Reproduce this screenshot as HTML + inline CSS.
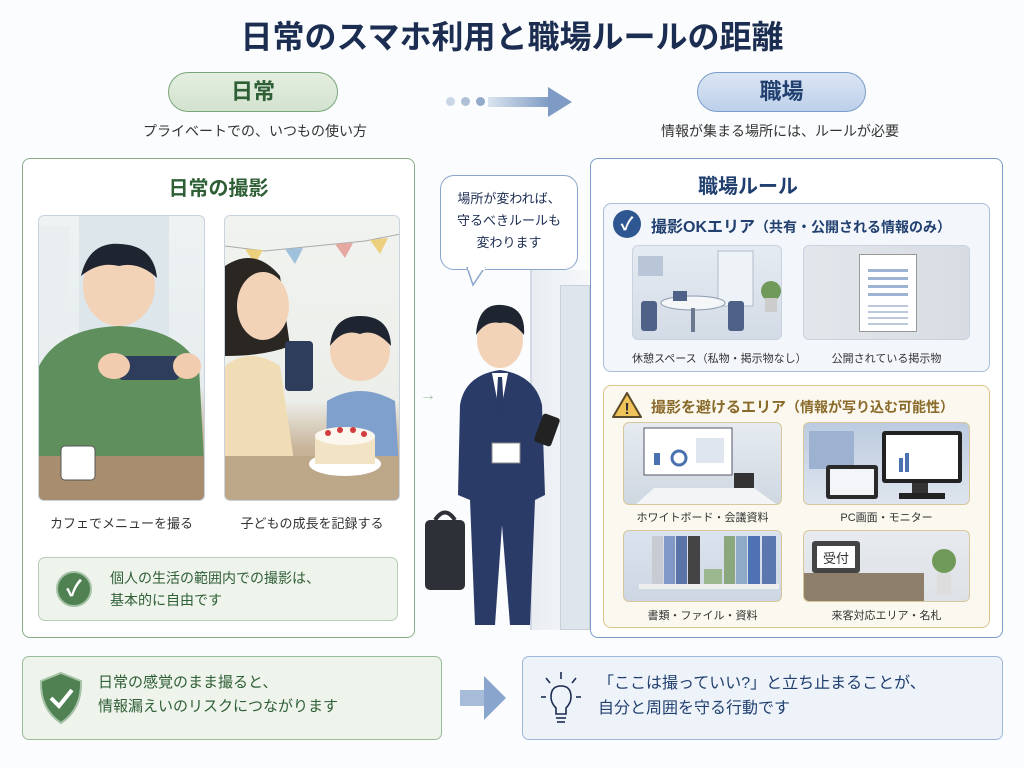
<!DOCTYPE html>
<html><head><meta charset="utf-8"><style>
*{margin:0;padding:0;box-sizing:border-box}
body{width:1024px;height:768px;background:#fbfcfd;position:relative;overflow:hidden;font-family:"Liberation Sans","Noto Sans CJK JP",sans-serif;color:#333}
.a{position:absolute}
.t{white-space:nowrap}
.ph{position:absolute;border-radius:6px;overflow:hidden;border:1px solid #c9d3df}
.lbl{position:absolute;font-size:12px;color:#333;text-align:center;white-space:nowrap}
</style></head><body>
<div class="a t" style="left:0;width:1024px;top:12px;text-align:center;font-size:32px;font-weight:bold;color:#1c2d52">日常のスマホ利用と職場ルールの距離</div>

<div class="a" style="left:168px;top:72px;width:170px;height:40px;border-radius:20px;background:linear-gradient(#e4eee0,#d3e2cf);border:1.5px solid #7aa57a;text-align:center;line-height:38px;font-size:22px;font-weight:bold;color:#2e5f35">日常</div>
<div class="a t" style="left:130px;top:121px;width:250px;text-align:center;font-size:14px;color:#333">プライベートでの、いつもの使い方</div>

<div class="a" style="left:446px;top:97px;width:9px;height:9px;border-radius:50%;background:#c9d6e6"></div>
<div class="a" style="left:461px;top:97px;width:9px;height:9px;border-radius:50%;background:#aebfd6"></div>
<div class="a" style="left:476px;top:97px;width:9px;height:9px;border-radius:50%;background:#93aacb"></div>
<svg class="a" style="left:488px;top:87px" width="86" height="30"><defs><linearGradient id="g1"><stop offset="0" stop-color="#dbe4ef"/><stop offset="1" stop-color="#7d9bc4"/></linearGradient></defs><rect x="0" y="10" width="62" height="10" fill="url(#g1)"/><polygon points="60,0 84,15 60,30" fill="#7d9bc4"/></svg>

<div class="a" style="left:697px;top:72px;width:169px;height:40px;border-radius:20px;background:linear-gradient(#dbe6f4,#bdd0ea);border:1.5px solid #7b9cc9;text-align:center;line-height:38px;font-size:22px;font-weight:bold;color:#21406f">職場</div>
<div class="a t" style="left:640px;top:121px;width:280px;text-align:center;font-size:14px;color:#333">情報が集まる場所には、ルールが必要</div>

<!-- left panel -->
<div class="a" style="left:22px;top:158px;width:393px;height:480px;border:1.5px solid #86ad86;border-radius:8px;background:#fff"></div>
<div class="a t" style="left:22px;width:393px;top:172px;text-align:center;font-size:20px;font-weight:bold;color:#2e5f35">日常の撮影</div>

<div class="ph" style="left:38px;top:215px;width:167px;height:286px;background:linear-gradient(#eef2f3 0%,#e7ecee 60%,#c9b59c 78%,#b89f82 100%)">
<svg width="167" height="286"><rect x="40" y="0" width="90" height="120" fill="#dde6ea"/><rect x="0" y="10" width="30" height="110" fill="#e9eff0"/><ellipse cx="80" cy="70" rx="36" ry="40" fill="#f3d3b8"/><path d="M42 60 Q50 25 82 28 Q115 30 118 62 Q100 45 80 50 Q60 45 42 60Z" fill="#1e2430"/><path d="M0 285 L0 150 Q20 112 80 110 Q140 112 160 150 L167 285Z" fill="#5f8f5c"/><rect x="80" y="140" width="60" height="24" rx="4" fill="#2e3d5c"/><ellipse cx="75" cy="150" rx="16" ry="13" fill="#f1ccaf"/><ellipse cx="148" cy="150" rx="14" ry="13" fill="#f1ccaf"/><rect x="0" y="240" width="167" height="46" fill="#a88d6e"/><rect x="22" y="230" width="34" height="34" rx="4" fill="#fff" stroke="#555"/></svg></div>
<div class="ph" style="left:224px;top:215px;width:176px;height:286px;background:linear-gradient(#f1f3f0 0%,#ebeee9 65%,#c9b499 82%,#b39b7f 100%)">
<svg width="176" height="286"><polyline points="0,30 40,35 90,30 140,25 176,18" fill="none" stroke="#aaa"/><polygon points="20,33 30,48 38,34" fill="#ecd07d"/><polygon points="60,33 70,48 78,32" fill="#9fc1dc"/><polygon points="110,28 120,42 128,27" fill="#e6a8a0"/><polygon points="145,24 155,38 163,22" fill="#ecd07d"/><path d="M0 50 Q30 30 55 60 L65 130 Q40 140 0 140Z" fill="#2a2622"/><ellipse cx="38" cy="90" rx="26" ry="34" fill="#f3d3b8"/><path d="M0 286 L0 150 Q25 130 55 150 L75 286Z" fill="#f0ddb6"/><rect x="60" y="125" width="28" height="50" rx="4" fill="#2e3d5c"/><ellipse cx="135" cy="135" rx="30" ry="30" fill="#f3d3b8"/><path d="M105 130 Q108 100 135 100 Q165 100 166 130 Q150 112 135 118 Q118 112 105 130Z" fill="#1e2430"/><path d="M100 286 L102 185 Q135 165 170 185 L176 286Z" fill="#7f9fcc"/><rect x="0" y="240" width="176" height="46" fill="#bda789"/><ellipse cx="120" cy="248" rx="36" ry="12" fill="#fff"/><rect x="90" y="220" width="60" height="28" fill="#f3e3c5"/><ellipse cx="120" cy="220" rx="30" ry="9" fill="#fbf6ee"/><circle cx="103" cy="217" r="3" fill="#d23c3c"/><circle cx="115" cy="214" r="3" fill="#d23c3c"/><circle cx="128" cy="214" r="3" fill="#d23c3c"/><circle cx="139" cy="218" r="3" fill="#d23c3c"/></svg></div>
<div class="lbl" style="left:38px;width:167px;top:513px;font-size:13px">カフェでメニューを撮る</div>
<div class="lbl" style="left:224px;width:176px;top:513px;font-size:13px">子どもの成長を記録する</div>

<div class="a" style="left:38px;top:557px;width:360px;height:64px;border:1px solid #b9cdb7;border-radius:7px;background:#eef3ec"></div>
<div class="a" style="left:56px;top:571px;width:36px;height:36px;border-radius:50%;background:#4f8152;border:2px solid #a6c2a6;color:#fff;font-size:22px;text-align:center;line-height:32px;font-weight:bold">✓</div>
<div class="a t" style="left:110px;top:567px;font-size:14px;line-height:22px;color:#2e5f35">個人の生活の範囲内での撮影は、<br>基本的に自由です</div>

<!-- center -->
<div class="a" style="left:440px;top:175px;width:138px;height:95px;border:1.5px solid #8ba6cc;border-radius:14px;background:#fff"></div>
<svg class="a" style="left:465px;top:267px" width="24" height="20"><polygon points="2,0 20,0 8,18" fill="#fff" stroke="#8ba6cc" stroke-width="1.5"/><rect x="3" y="0" width="17" height="3" fill="#fff"/></svg>
<div class="a t" style="left:440px;width:138px;top:188px;text-align:center;font-size:13px;line-height:22px;color:#1c2d52">場所が変われば、<br>守るべきルールも<br>変わります</div>
<div class="a" style="left:530px;top:270px;width:60px;height:360px;background:linear-gradient(90deg,#e9edf2,#f6f8fa);border-left:2px solid #d3dae3"></div>
<div class="a" style="left:560px;top:285px;width:30px;height:345px;background:#dfe5ec;border:1px solid #c8d0da"></div>
<svg class="a" style="left:420px;top:295px" width="150" height="335">
<text x="0" y="105" font-size="16" fill="#a8c0a6" font-family="Liberation Sans">→</text>
<ellipse cx="80" cy="45" rx="23" ry="28" fill="#f3d3b8"/><path d="M56 40 Q58 8 82 10 Q106 12 104 40 Q92 25 80 28 Q66 25 56 40Z" fill="#1e2430"/>
<path d="M40 110 Q45 80 80 75 Q115 80 122 110 L125 200 L115 205 L110 330 L90 330 L82 230 L75 330 L55 330 L50 205 L38 200Z" fill="#2a3b68"/>
<polygon points="72,78 80,120 88,78" fill="#fff"/><polygon points="78,82 82,82 84,115 80,122 76,115" fill="#2a3a66"/>
<rect x="72" y="148" width="28" height="20" fill="#fff" stroke="#888"/>
<rect x="118" y="120" width="18" height="30" rx="3" fill="#222" transform="rotate(20 127 135)"/>
<rect x="5" y="225" width="40" height="70" rx="5" fill="#2d3036"/><path d="M15 225 Q25 210 35 225" fill="none" stroke="#2d3036" stroke-width="4"/>
</svg>

<!-- right panel -->
<div class="a" style="left:590px;top:158px;width:413px;height:480px;border:1.5px solid #7a9cc9;border-radius:8px;background:#fff"></div>
<div class="a t" style="left:590px;width:316px;top:170px;text-align:center;font-size:20px;font-weight:bold;color:#21406f">職場ルール</div>
<div class="a" style="left:603px;top:203px;width:387px;height:169px;border:1px solid #a8bedc;border-radius:8px;background:#f3f6fb"></div>
<div class="a" style="left:613px;top:210px;width:28px;height:28px;border-radius:50%;background:#2e5690;color:#fff;font-size:18px;text-align:center;line-height:28px;font-weight:bold">✓</div>
<div class="a t" style="left:651px;top:213px;font-size:16px;font-weight:bold;color:#21406f">撮影OKエリア<span style="font-size:14px">（共有・公開される情報のみ）</span></div>
<div class="ph" style="left:632px;top:245px;width:150px;height:95px;background:linear-gradient(#e6ebf2,#d3dbe6)">
<svg width="150" height="95"><rect x="5" y="10" width="25" height="20" fill="#b8c6d8"/><rect x="85" y="5" width="35" height="55" fill="#eef3f8" stroke="#b0bccb"/><ellipse cx="60" cy="57" rx="32" ry="7" fill="#f4f6f8" stroke="#8a9ab0"/><rect x="58" y="62" width="4" height="24" fill="#6a7890"/><rect x="8" y="55" width="16" height="30" rx="3" fill="#4f6186"/><rect x="95" y="55" width="16" height="30" rx="3" fill="#4f6186"/><rect x="40" y="45" width="14" height="10" fill="#4f6186"/><circle cx="138" cy="45" r="10" fill="#6f9a5a"/><rect x="132" y="52" width="12" height="14" fill="#ccc"/></svg></div>
<div class="ph" style="left:803px;top:245px;width:167px;height:95px;background:linear-gradient(90deg,#e3e7ec,#d7dce3)">
<div class="a" style="left:55px;top:8px;width:58px;height:78px;background:#fff;border:1px solid #999"><div style="margin:14px 8px 0;height:30px;background:repeating-linear-gradient(#9eb4d4 0 3px,#fff 3px 8px)"></div><div style="margin:6px 8px 0;height:20px;background:repeating-linear-gradient(#bcc9dc 0 2px,#fff 2px 6px)"></div></div></div>
<div class="lbl" style="left:632px;width:150px;top:350px;font-size:11px">休憩スペース（私物・掲示物なし）</div>
<div class="lbl" style="left:803px;width:167px;top:350px;font-size:11px">公開されている掲示物</div>

<div class="a" style="left:603px;top:385px;width:387px;height:243px;border:1px solid #dcc48e;border-radius:8px;background:#fbf8ef"></div>
<svg class="a" style="left:611px;top:391px" width="32" height="28"><polygon points="16,2 30,26 2,26" fill="#f0c45a" stroke="#5a4a2a" stroke-width="2" stroke-linejoin="round"/><text x="16" y="23" text-anchor="middle" font-size="16" font-weight="bold" fill="#333" font-family="Liberation Sans">!</text></svg>
<div class="a t" style="left:651px;top:396px;font-size:15px;font-weight:bold;color:#8a6a2a">撮影を避けるエリア<span style="font-size:14px">（情報が写り込む可能性）</span></div>
<div class="ph" style="left:623px;top:422px;width:159px;height:83px;background:linear-gradient(#e6ebf1,#cfd7e1);border-color:#d8c79c">
<svg width="159" height="83"><rect x="20" y="5" width="88" height="47" fill="#fff" stroke="#556"/><rect x="30" y="30" width="6" height="12" fill="#4a72b0"/><circle cx="55" cy="35" r="7" fill="none" stroke="#4a72b0" stroke-width="3"/><rect x="72" y="15" width="28" height="25" fill="#dfe6f0"/><rect x="110" y="50" width="20" height="18" fill="#333"/><polygon points="10,83 30,65 130,65 155,83" fill="#f2f4f6"/></svg></div>
<div class="ph" style="left:803px;top:422px;width:167px;height:83px;background:linear-gradient(#bccbe0,#dfe5ee);border-color:#d8c79c">
<svg width="167" height="83"><rect x="5" y="8" width="45" height="38" fill="#9db2d0"/><rect x="78" y="8" width="80" height="52" rx="3" fill="#222"/><rect x="82" y="12" width="72" height="44" fill="#fff"/><rect x="95" y="35" width="4" height="14" fill="#4a72b0"/><rect x="101" y="30" width="4" height="19" fill="#4a72b0"/><rect x="108" y="60" width="16" height="10" fill="#333"/><rect x="95" y="70" width="46" height="6" fill="#222"/><rect x="22" y="42" width="52" height="34" rx="3" fill="#2a2a2a"/><rect x="26" y="46" width="44" height="26" fill="#f3f5f8"/></svg></div>
<div class="lbl" style="left:623px;width:159px;top:509px;font-size:11px">ホワイトボード・会議資料</div>
<div class="lbl" style="left:803px;width:167px;top:509px;font-size:11px">PC画面・モニター</div>
<div class="ph" style="left:623px;top:530px;width:159px;height:72px;background:linear-gradient(#dbe3ee,#cdd6e2);border-color:#d8c79c">
<svg width="159" height="72"><rect x="28" y="5" width="11" height="48" fill="#c8ccd2"/><rect x="40" y="5" width="11" height="48" fill="#7f98c6"/><rect x="52" y="5" width="11" height="48" fill="#5a73a8"/><rect x="64" y="5" width="12" height="48" fill="#444"/><rect x="80" y="38" width="18" height="15" fill="#9cb88f"/><rect x="100" y="5" width="11" height="48" fill="#8aa77e"/><rect x="112" y="5" width="11" height="48" fill="#8eaac8"/><rect x="124" y="5" width="12" height="48" fill="#4f72b4"/><rect x="138" y="5" width="14" height="48" fill="#5a77b0"/><rect x="15" y="53" width="140" height="5" fill="#eee"/></svg></div>
<div class="ph" style="left:803px;top:530px;width:167px;height:72px;background:linear-gradient(#e7eaee,#dde2e7);border-color:#d8c79c">
<svg width="167" height="72"><rect x="0" y="42" width="120" height="30" fill="#8d7f6c"/><rect x="8" y="10" width="48" height="32" rx="3" fill="#444"/><rect x="13" y="15" width="38" height="22" fill="#fff"/><text x="32" y="32" text-anchor="middle" font-size="13" fill="#333" font-family="Liberation Sans,Noto Sans CJK JP">受付</text><circle cx="140" cy="30" r="12" fill="#6f9a5a"/><rect x="133" y="42" width="14" height="22" fill="#ddd"/></svg></div>
<div class="lbl" style="left:623px;width:159px;top:607px;font-size:11px">書類・ファイル・資料</div>
<div class="lbl" style="left:803px;width:167px;top:607px;font-size:11px">来客対応エリア・名札</div>

<!-- bottom -->
<div class="a" style="left:22px;top:656px;width:420px;height:84px;border:1.5px solid #9bbc99;border-radius:7px;background:#eef3ec"></div>
<svg class="a" style="left:38px;top:671px" width="46" height="54"><path d="M23 2 L43 10 Q44 38 23 52 Q2 38 3 10Z" fill="#4f8152" stroke="#a6c2a6" stroke-width="2"/><path d="M13 27 L21 35 L34 19" fill="none" stroke="#fff" stroke-width="4"/></svg>
<div class="a t" style="left:98px;top:671px;font-size:15px;line-height:24px;color:#2e5f35">日常の感覚のまま撮ると、<br>情報漏えいのリスクにつながります</div>
<svg class="a" style="left:460px;top:676px" width="48" height="44"><rect x="0" y="14" width="26" height="16" fill="#a7bcd9"/><polygon points="24,0 46,22 24,44" fill="#8aa5cd"/></svg>
<div class="a" style="left:522px;top:656px;width:481px;height:84px;border:1.5px solid #9fb7da;border-radius:7px;background:#eef3fa"></div>
<svg class="a" style="left:540px;top:670px" width="42" height="56"><g stroke="#1c2d52" stroke-width="1.6" fill="none"><path d="M21 16 Q11 16 11 27 Q11 33 16 38 L16 44 L26 44 L26 38 Q31 33 31 27 Q31 16 21 16Z"/><line x1="16" y1="48" x2="26" y2="48"/><line x1="17" y1="52" x2="25" y2="52"/><line x1="21" y1="2" x2="21" y2="9"/><line x1="6" y1="8" x2="10" y2="13"/><line x1="36" y1="8" x2="32" y2="13"/><line x1="1" y1="27" x2="6" y2="27"/><line x1="36" y1="27" x2="41" y2="27"/></g></svg>
<div class="a t" style="left:598px;top:671px;font-size:16px;line-height:25px;color:#21406f">「ここは撮っていい?」と立ち止まることが、<br>自分と周囲を守る行動です</div>
</body></html>
